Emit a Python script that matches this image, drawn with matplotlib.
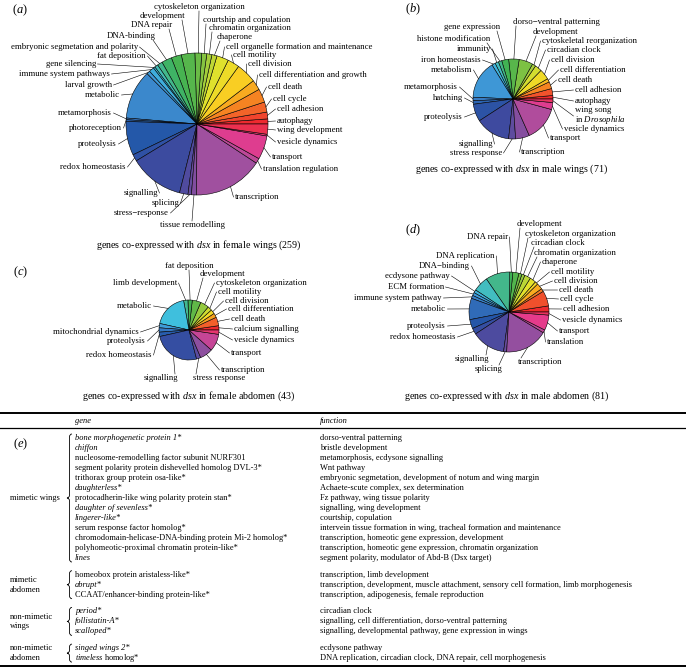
import numpy as np
import matplotlib.pyplot as plt
from matplotlib.colors import LinearSegmentedColormap
from matplotlib.path import Path
from matplotlib.patches import PathPatch

plt.rcParams['font.family'] = ['Liberation Serif', 'DejaVu Serif']
plt.rcParams['mathtext.fontset'] = 'custom'
plt.rcParams['mathtext.rm'] = 'Liberation Serif'
plt.rcParams['mathtext.it'] = 'Liberation Serif:italic'
plt.rcParams['mathtext.bf'] = 'Liberation Serif:bold'

# ---- data : gene counts per functional category ----
labels_a = ['autophagy', 'cell adhesion', 'cell cycle', 'cell death',
            'cell differentiation and growth', 'cell division', 'cell motility',
            'cell organelle formation and maintenance', 'chaperone',
            'chromatin organization', 'courtship and copulation',
            'cytoskeleton organization', 'development', 'DNA repair', 'DNA-binding',
            'embryonic segmetation and polarity', 'fat deposition', 'gene silencing',
            'immune system pathways', 'larval growth', 'metabolic', 'metamorphosis',
            'photoreception', 'proteolysis', 'redox homeostasis', 'signalling',
            'splicing', 'stress\u2212response', 'tissue remodelling', 'transcription',
            'translation regulation', 'transport', 'vesicle dynamics', 'wing development']
counts_a = [3, 4, 6, 8, 6, 12, 7, 7, 3, 3, 3, 4, 8, 6, 6, 3, 2, 1, 3, 2, 29, 1, 1,
            20, 4, 32, 5, 2, 3, 41, 3, 14, 1, 6]

labels_b = ['autophagy', 'cell adhesion', 'cell death', 'cell differentiation',
            'cell division', 'circadian clock', 'cytoskeletal reorganization',
            'development', 'dorso\u2212ventral patterning', 'gene expression',
            'histone modification', 'immunity', 'iron homeostasis', 'metabolism',
            'metamorphosis', 'hatching', 'proteolysis', 'signalling', 'stress response',
            'transcription', 'transport', 'vesicle dynamics',
            'wing song\nin $\\mathit{Drosophila}$']
counts_b = [1, 2, 2, 1, 3, 2, 1, 4, 3, 2, 1, 1, 1, 11, 1, 1, 5, 10, 2, 4, 10, 2, 1]

labels_c = ['calcium signalling', 'cell death', 'cell differentiation', 'cell division',
            'cell motility', 'cytoskeleton organization', 'development', 'fat deposition',
            'limb development', 'metabolic', 'mitochondrial dynamics', 'proteolysis',
            'redox homeostasis', 'signalling', 'stress response', 'transcription',
            'transport', 'vesicle dynamics']
counts_c = [1, 2, 1, 1, 1, 2, 2, 1, 1, 8, 1, 1, 1, 11, 1, 3, 4, 1]

labels_d = ['cell adhesion', 'cell cycle', 'cell death', 'cell division', 'cell motility',
            'chaperone', 'chromatin organization', 'circadian clock',
            'cytoskeleton organization', 'development', 'DNA repair', 'DNA replication',
            'DNA\u2212binding', 'ecdysone pathway', 'ECM formation',
            'immune system pathway', 'metabolic', 'proteolysis', 'redox homeostasis',
            'signalling', 'splicing', 'transcription', 'translation', 'transport',
            'vesicle dynamics']
counts_d = [2, 5, 1, 2, 1, 2, 2, 1, 1, 2, 1, 8, 5, 1, 1, 1, 7, 3, 2, 11, 1, 14, 1, 5, 1]

titles = ['genes co-expressed with $\\mathit{dsx}$ in female wings (259)',
          'genes co-expressed with $\\mathit{dsx}$ in male wings (71)',
          'genes co-expressed with $\\mathit{dsx}$ in female abdomen (43)',
          'genes co-expressed with $\\mathit{dsx}$ in male abdomen (81)']

# table (e)
groups = ['mimetic wings', 'mimetic\nabdomen', 'non-mimetic\nwings', 'non-mimetic\nabdomen']
genes = [
    ['bone morphogenetic protein 1*', 'chiffon',
     'nucleosome-remodelling factor subunit NURF301',
     'segment polarity protein dishevelled homolog DVL-3*',
     'trithorax group protein osa-like*', 'daughterless*',
     'protocadherin-like wing polarity protein stan*', 'daughter of sevenless*',
     'lingerer-like*', 'serum response factor homolog*',
     'chromodomain-helicase-DNA-binding protein Mi-2 homolog*',
     'polyhomeotic-proximal chromatin protein-like*', 'lines'],
    ['homeobox protein aristaless-like*', 'abrupt*', 'CCAAT/enhancer-binding protein-like*'],
    ['period*', 'follistatin-A*', 'scalloped*'],
    ['singed wings 2*', '$\\mathit{timeless}$ homolog*'],
]
gene_italic = [
    [1, 1, 0, 0, 0, 1, 0, 1, 1, 0, 0, 0, 1],
    [0, 1, 0],
    [1, 1, 1],
    [1, 0],
]
functions = [
    ['dorso-ventral patterning', 'bristle development',
     'metamorphosis, ecdysone signalling', 'Wnt pathway',
     'embryonic segmetation, development of notum and wing margin',
     'Achaete-scute complex, sex determination', 'Fz pathway, wing tissue polarity',
     'signalling, wing development', 'courtship, copulation',
     'intervein tissue formation in wing, tracheal formation and maintenance',
     'transcription, homeotic gene expression, development',
     'transcription, homeotic gene expression, chromatin organization',
     'segment polarity, modulator of Abd-B (Dsx target)'],
    ['transcription, limb development',
     'transcription, development, muscle attachment, sensory cell formation, limb morphogenesis',
     'transcription, adipogenesis, female reproduction'],
    ['circadian clock', 'signalling, cell differentiation, dorso-ventral patterning',
     'signalling, developmental pathway, gene expression in wings'],
    ['ecdysone pathway', 'DNA replication, circadian clock, DNA repair, cell morphogenesis'],
]

# ---- layout (pixel coords, y downwards) ----
W, H = 686, 672
# label anchor: x, y, alignment, leader mode (s=side, b=below text, a=above text)
layout_a = [(277, 121, 'left', 's'), (277, 109, 'left', 's'), (273, 99, 'left', 's'),
            (268, 87, 'left', 's'), (259, 75, 'left', 's'), (248, 64, 'left', 's'),
            (233, 55, 'left', 's'), (226, 47, 'left', 's'), (217, 37, 'left', 'b'),
            (209, 28, 'left', 'b'), (203, 20, 'left', 'b'), (199, 7, 'center', 's'),
            (185, 16, 'right', 'b'), (172, 25, 'right', 'b'), (156, 36, 'right', 'b'),
            (138, 47, 'right', 's'), (146, 56, 'right', 's'), (96, 64, 'right', 's'),
            (110, 74, 'right', 's'), (112, 85, 'right', 's'), (120, 95, 'right', 's'),
            (112, 113, 'right', 's'), (122, 128, 'right', 's'), (117, 144, 'right', 's'),
            (126, 167, 'right', 's'), (158, 193, 'right', 's'), (179, 203, 'right', 's'),
            (169, 213, 'right', 's'), (192, 225, 'center', 's'), (235, 197, 'left', 's'),
            (263, 169, 'left', 's'), (272, 157, 'left', 's'), (277, 142, 'left', 's'),
            (277, 130, 'left', 's')]
layout_b = [(575, 101, 'left', 's'), (575, 90, 'left', 's'), (558, 80, 'left', 's'),
            (560, 70, 'left', 's'), (551, 60, 'left', 's'), (547, 50, 'left', 's'),
            (542, 41, 'left', 's'), (533, 32, 'left', 'b'), (513, 22, 'left', 'b'),
            (500, 27, 'right', 'b'), (490, 39, 'right', 'b'), (491, 49, 'right', 's'),
            (481, 60, 'right', 's'), (472, 70, 'right', 's'), (458, 87, 'right', 's'),
            (463, 98, 'right', 's'), (463, 117, 'right', 's'), (493, 144, 'right', 's'),
            (502, 153, 'right', 's'), (521, 152, 'left', 's'), (550, 138, 'left', 's'),
            (564, 129, 'left', 's'), (575, 116, 'left', 's')]
layout_c = [(234, 329, 'left', 's'), (231, 319, 'left', 's'), (228, 309, 'left', 's'),
            (225, 301, 'left', 's'), (218, 292, 'left', 's'), (216, 283, 'left', 's'),
            (200, 274, 'left', 'b'), (189, 266, 'center', 's'), (177, 283, 'right', 's'),
            (152, 306, 'right', 's'), (139, 332, 'right', 's'), (146, 341, 'right', 's'),
            (152, 355, 'right', 's'), (178, 378, 'right', 'a'), (193, 378, 'left', 'a'),
            (221, 370, 'left', 's'), (231, 353, 'left', 's'), (234, 340, 'left', 's')]
layout_d = [(563, 309, 'left', 's'), (560, 299, 'left', 's'), (559, 290, 'left', 's'),
            (554, 281, 'left', 's'), (551, 272, 'left', 's'), (542, 262, 'left', 's'),
            (534, 253, 'left', 'b'), (531, 243, 'left', 'b'), (525, 234, 'left', 'b'),
            (517, 224, 'left', 'b'), (508, 237, 'right', 's'), (495, 256, 'right', 's'),
            (470, 266, 'right', 's'), (450, 276, 'right', 's'), (444, 287, 'right', 's'),
            (442, 298, 'right', 's'), (446, 309, 'right', 's'), (446, 326, 'right', 's'),
            (456, 337, 'right', 's'), (489, 359, 'right', 'a'), (502, 369, 'right', 'a'),
            (518, 362, 'left', 'a'), (547, 342, 'left', 's'), (559, 331, 'left', 's'),
            (562, 320, 'left', 's')]

pie_cmap = LinearSegmentedColormap.from_list('wheel', [
    (0.00, '#ee2a2f'), (0.05, '#f15a2b'), (0.10, '#f7931e'), (0.15, '#f9d423'),
    (0.20, '#e3e22c'), (0.26, '#a6cf3c'), (0.33, '#62b847'), (0.40, '#3db155'),
    (0.45, '#45b99a'), (0.50, '#3fc0dd'), (0.56, '#3f9ad8'), (0.62, '#3674bf'),
    (0.68, '#2457a8'), (0.74, '#3d4a9f'), (0.80, '#6a4d9f'), (0.86, '#a5509f'),
    (0.92, '#e53b8d'), (1.00, '#ee2a2f')])

LAB_FS = 6.3
TITLE_FS = 7.2
TAB_FS = 6.0

fig = plt.figure(figsize=(6.86, 6.72), dpi=100)
ax = fig.add_axes([0, 0, 1, 1])


def draw_pie(labels, counts, center, radius, layout):
    cx, cy = center
    n = len(counts)
    wedges, _ = ax.pie(counts, colors=pie_cmap(np.arange(n) / n), startangle=0,
                       counterclock=True, center=(cx, H - cy), radius=radius,
                       frame=True, wedgeprops=dict(edgecolor='black', linewidth=0.4))
    for w, lab, (x, y, ha, mode) in zip(wedges, labels, layout):
        mid = np.deg2rad((w.theta1 + w.theta2) / 2)
        x0 = cx + radius * np.cos(mid)
        y0 = (H - cy) + radius * np.sin(mid)
        if mode == 'b':
            x1, y1 = (x - 3 if ha == 'right' else x + 3), y + 4
        elif mode == 'a':
            x1, y1 = (x - 3 if ha == 'right' else x + 3), y - 4
        elif ha == 'center':
            x1, y1 = x, (y + 4 if y < cy else y - 4)
        else:
            x1, y1 = (x + 1.5 if ha == 'right' else x - 1.5), y
        ax.plot([x0, x1], [y0, H - y1], color='black', lw=0.4)
        ax.text(x, H - y, lab, ha=ha, va='center', fontsize=LAB_FS, linespacing=1.0)


draw_pie(labels_a, counts_a, (197, 124), 71, layout_a)
draw_pie(labels_b, counts_b, (513, 99), 40, layout_b)
draw_pie(labels_c, counts_c, (189, 330), 30, layout_c)
draw_pie(labels_d, counts_d, (509, 312), 40, layout_d)

for t, (x, y) in zip(titles, [(198, 245), (511, 169), (189, 396), (507, 396)]):
    ax.text(x, H - y, t, ha='center', va='center', fontsize=TITLE_FS)
for t, (x, y) in zip(['a', 'b', 'c', 'd', 'e'],
                     [(12, 10), (405, 9), (13, 272), (405, 230), (13, 444)]):
    ax.text(x, H - y, '($\\mathit{%s}$)' % t, ha='left', va='center', fontsize=9)


def brace(x, ytop, ybot, w=5, r=3):
    xm, xt = x - w / 2, x - w
    ym = (ytop + ybot) / 2
    verts = [(x, ytop), (xm, ytop), (xm, ytop - r), (xm, ym + r), (xm, ym), (xt, ym),
             (xm, ym), (xm, ym - r), (xm, ybot + r), (xm, ybot), (x, ybot)]
    codes = [Path.MOVETO, Path.CURVE3, Path.CURVE3, Path.LINETO, Path.CURVE3, Path.CURVE3,
             Path.CURVE3, Path.CURVE3, Path.LINETO, Path.CURVE3, Path.CURVE3]
    ax.add_patch(PathPatch(Path(verts, codes), fill=False, lw=0.6, edgecolor='black'))


# ---- table (e) ----
ax.plot([0, W], [H - 413, H - 413], color='black', lw=1.4)
ax.plot([0, W], [H - 428, H - 428], color='black', lw=0.9)
ax.plot([0, W], [H - 666, H - 666], color='black', lw=1.4)
ax.text(75, H - 421, 'gene', style='italic', fontsize=TAB_FS, va='center')
ax.text(320, H - 421, 'function', style='italic', fontsize=TAB_FS, va='center')

row_h = 10.0
gap = 6.7
y = 438
for grp, gl, il, fl in zip(groups, genes, gene_italic, functions):
    y_first = y
    for g, it, f in zip(gl, il, fl):
        ax.text(75, H - y, g, style='italic' if it else 'normal', fontsize=TAB_FS,
                va='center')
        ax.text(320, H - y, f, fontsize=TAB_FS, va='center')
        y += row_h
    y_last = y - row_h
    ax.text(10, H - (y_first + y_last) / 2, grp, fontsize=TAB_FS, va='center',
            linespacing=1.3)
    brace(72, H - (y_first - 4), H - (y_last + 4))
    y += gap

ax.set_xlim(0, W)
ax.set_ylim(0, H)
ax.axis('off')
fig.savefig('out.png', dpi=100)
